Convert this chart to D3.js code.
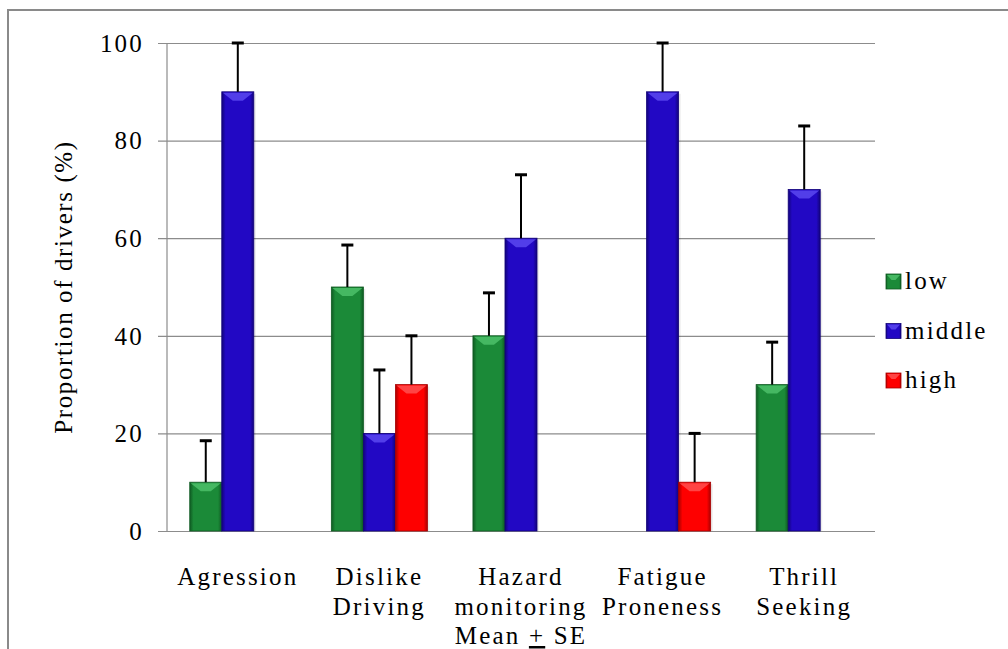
<!DOCTYPE html>
<html><head><meta charset="utf-8">
<script src="https://cdn.jsdelivr.net/npm/d3@7"></script>
<style>
body{margin:0;background:#fff;}
</style></head>
<body><svg id="chart" width="1008" height="649"></svg>
<script>
const FONT = "'Liberation Serif', 'Times New Roman', serif";
const FS = 25, LS = 2.2;
const categories = [["Agression"],["Dislike","Driving"],["Hazard","monitoring","Mean + SE"],["Fatigue","Proneness"],["Thrill","Seeking"]];
const categoryKeys = ["Agression","Dislike Driving","Hazard monitoring","Fatigue Proneness","Thrill Seeking"];
const seriesNames = ["low","middle","high"];
const lowValues = [10, 50, 40, 0, 30];
const middleValues = [90, 20, 60, 90, 70];
const highValues = [0, 30, 0, 10, 0];
const lowErr = [8.5, 8.6, 8.8, 0, 8.7];
const middleErr = [10, 13, 13, 10, 13];
const highErr = [0, 10, 0, 10, 0];
const yTicks = [0, 20, 40, 60, 80, 100];
const colors = {low:"#1b8a38", middle:"#2208c4", high:"#fe0000"};
const darks = {low:"#0f5a22", middle:"#12037a", high:"#a80000"};
const lights = {low:"#4cc06a", middle:"#5a48f0", high:"#ff5050"};

(function(){
const values = {low:lowValues, middle:middleValues, high:highValues};
const errs = {low:lowErr, middle:middleErr, high:highErr};

const svg = d3.select("#chart");
svg.append("rect").attr("x",8).attr("y",10).attr("width",1100).attr("height",700)
  .attr("fill","none").attr("stroke","#8a8a8a").attr("stroke-width",2);

const pL = 167, pR = 875, pT = 43, pB = 531;
const x0 = d3.scaleBand().domain(categoryKeys).range([pL, pR]).padding(0);
const x1 = d3.scaleBand().domain(seriesNames).range([0, x0.bandwidth()]).paddingInner(0).paddingOuter(0.71);
const y = d3.scaleLinear().domain([0,100]).range([pB, pT]);

const yAxis = d3.axisLeft(y).tickValues(yTicks).tickSize(0).tickFormat(d3.format("d"));
const gA = svg.append("g").attr("transform",`translate(158,0)`).call(yAxis);
gA.attr("font-family", FONT);
gA.select(".domain").remove();
gA.selectAll(".tick line").attr("stroke","#8c8c8c").attr("stroke-width",1.2).attr("x1",0).attr("x2",pR-158);
gA.selectAll(".tick text").attr("font-size",FS).attr("fill","#000").attr("x",-14).attr("font-family",FONT)
  .attr("letter-spacing",LS).attr("dy","0.33em");
svg.append("line").attr("x1",pL).attr("x2",pL).attr("y1",pT).attr("y2",pB)
  .attr("stroke","#8c8c8c").attr("stroke-width",1.2);

const defs = svg.append("defs");
seriesNames.forEach(s=>{
  const g = defs.append("linearGradient").attr("id","g-"+s).attr("x1","0").attr("x2","1").attr("y1","0").attr("y2","0");
  g.append("stop").attr("offset","0").attr("stop-color",darks[s]);
  g.append("stop").attr("offset","0.12").attr("stop-color",colors[s]);
  g.append("stop").attr("offset","0.88").attr("stop-color",colors[s]);
  g.append("stop").attr("offset","1").attr("stop-color",darks[s]);
});

const bars = [];
categoryKeys.forEach((c,i)=>{
  seriesNames.forEach(s=>{
    if (values[s][i] > 0) bars.push({c, s, v: values[s][i], e: errs[s][i]});
  });
});

const gb = svg.append("g");
gb.selectAll("rect.shadow").data(bars).join("rect").attr("class","shadow")
  .attr("x",d=>x0(d.c)+x1(d.s)+2).attr("y",d=>y(d.v)+2)
  .attr("width",x1.bandwidth()).attr("height",d=>y(0)-y(d.v)-2)
  .attr("fill","#000").attr("opacity",0.08);
gb.selectAll("rect.bar").data(bars).join("rect").attr("class","bar")
  .attr("x",d=>x0(d.c)+x1(d.s)).attr("y",d=>y(d.v))
  .attr("width",x1.bandwidth()).attr("height",d=>y(0)-y(d.v))
  .attr("fill",d=>`url(#g-${d.s})`).attr("stroke",d=>darks[d.s]).attr("stroke-width",0.8);
gb.selectAll("path.bevel").data(bars).join("path").attr("class","bevel")
  .attr("d",d=>{const xa=x0(d.c)+x1(d.s), w=x1.bandwidth(), yt=y(d.v);
    return `M${xa+1},${yt+1}L${xa+w-1},${yt+1}L${xa+w*0.5+5},${yt+9}L${xa+w*0.5-5},${yt+9}Z`;})
  .attr("fill",d=>lights[d.s]).attr("opacity",0.85);

const ge = svg.append("g");
const eb = bars.filter(d=>d.e>0);
ge.selectAll("line.v").data(eb).join("line").attr("class","v")
  .attr("x1",d=>x0(d.c)+x1(d.s)+x1.bandwidth()/2).attr("x2",d=>x0(d.c)+x1(d.s)+x1.bandwidth()/2)
  .attr("y1",d=>y(d.v)).attr("y2",d=>y(d.v+d.e)).attr("stroke","#000").attr("stroke-width",2);
ge.selectAll("line.cap").data(eb).join("line").attr("class","cap")
  .attr("x1",d=>x0(d.c)+x1(d.s)+x1.bandwidth()/2-6).attr("x2",d=>x0(d.c)+x1(d.s)+x1.bandwidth()/2+6)
  .attr("y1",d=>y(d.v+d.e)).attr("y2",d=>y(d.v+d.e)).attr("stroke","#000").attr("stroke-width",3);

categoryKeys.forEach((c,i)=>{
  const t = svg.append("text").attr("text-anchor","middle").attr("font-size",FS).attr("fill","#000")
    .attr("font-family",FONT).attr("letter-spacing",LS);
  categories[i].forEach((line,j)=>{
    const ts = t.append("tspan").attr("x",x0(c)+x0.bandwidth()/2).attr("y",585+j*29.5);
    if (line.includes("+")) {
      const parts = line.split("+");
      ts.append("tspan").text(parts[0]);
      ts.append("tspan").attr("text-decoration","underline").text("+");
      ts.append("tspan").text(parts[1]);
    } else ts.text(line);
  });
});

svg.append("text").attr("transform","translate(72,287) rotate(-90)").attr("text-anchor","middle")
  .attr("font-size",FS).attr("fill","#000").attr("font-family",FONT).attr("letter-spacing",1.6)
  .text("Proportion of drivers (%)");

const lg = svg.append("g");
seriesNames.forEach((s,i)=>{
  const yy = 274 + i*49.5;
  lg.append("rect").attr("x",886).attr("y",yy).attr("width",15).attr("height",15)
    .attr("fill",`url(#g-${s})`).attr("stroke",darks[s]).attr("stroke-width",0.8);
  lg.append("path").attr("d",`M887,${yy+1}L900,${yy+1}L895.5,${yy+6}L891.5,${yy+6}Z`).attr("fill",lights[s]).attr("opacity",0.85);
  lg.append("text").attr("x",905).attr("y",yy+15).attr("font-size",FS).attr("fill","#000")
    .attr("font-family",FONT).attr("letter-spacing",LS).text(s);
});
})();
</script></body></html>
